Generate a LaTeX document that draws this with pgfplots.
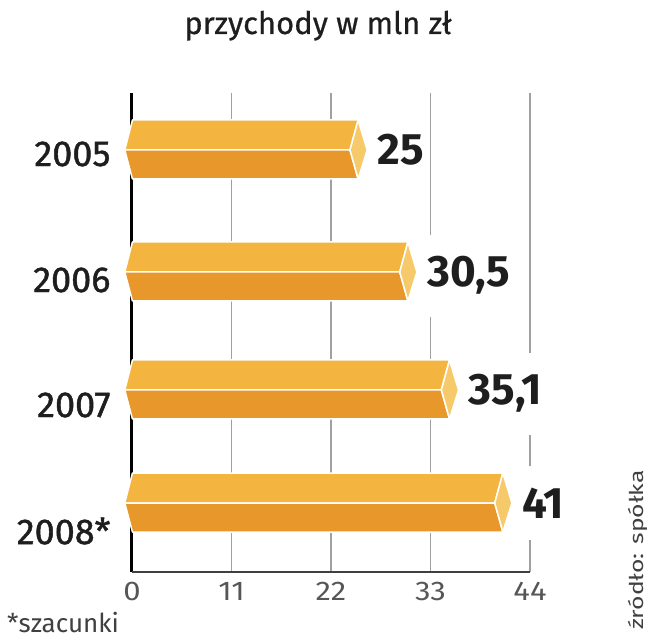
\documentclass[border=0pt]{standalone}
\usepackage{pgfplots}
\pgfplotsset{compat=1.18}
\usepackage{fontspec}
\setmainfont{Fira Sans}
\newfontfamily\semib{Fira Sans}[FakeBold=1.2]
\newfontfamily\medf{Fira Sans}[FakeBold=0.6]
\newfontfamily\srcf{Fira Sans}[FakeStretch=1.3]
\newfontfamily\tickf{Fira Sans}[FakeStretch=1.15]
\newcommand\tk{\fontsize{27}{27}\tickf}
\definecolor{ctop}{HTML}{F3B440}
\definecolor{cbot}{HTML}{E8972A}
\definecolor{ccap}{HTML}{F6CA6A}
\definecolor{cgrid}{HTML}{A0A0A0}
\definecolor{ctext}{HTML}{1E1E1E}
\begin{document}
\begin{tikzpicture}
\begin{axis}[
  scale only axis, width=398pt, height=479pt,
  xmin=0, xmax=44, ymin=0, ymax=479,
  xtick={0,11,22,33,44},
  xticklabels={0,11,22,33,44},
  ytick={41,167,292,418},
  yticklabels={2008*,2007,2006,2005},
  major tick length=0pt,
  axis line style={draw=none},
  xmajorgrids, grid style={cgrid, line width=1.2pt},
  every x tick label/.append style={font=\tk, text=ctext!75, yshift=-7pt},
  yticklabel style={font=\fontsize{36}{36}\semib, text=ctext, xshift=-18pt},
  clip=false,
  bar/.style={draw=white, line width=1.5pt, line join=round, mark=none},
]
\draw[black, line width=3pt] (axis cs:0,0) -- (axis cs:0,479);
\draw[black!75, line width=1.5pt] (axis cs:0,0) -- (axis cs:44,0);
% 2005: 25
\addplot[bar, fill=ctop] coordinates {(-0.8,422) (0.05,452) (25,452) (24.1,422) (-0.8,422)};
\addplot[bar, fill=cbot] coordinates {(-0.8,422) (24.1,422) (25,393) (0.05,393) (-0.8,422)};
\addplot[bar, fill=ccap] coordinates {(25,452) (26,422) (25,393) (24.1,422) (25,452)};
% 2006: 30.5
\addplot[bar, fill=ctop] coordinates {(-0.8,300) (0.05,330) (30.5,330) (29.6,300) (-0.8,300)};
\addplot[bar, fill=cbot] coordinates {(-0.8,300) (29.6,300) (30.5,271) (0.05,271) (-0.8,300)};
\addplot[bar, fill=ccap] coordinates {(30.5,330) (31.5,300) (30.5,271) (29.6,300) (30.5,330)};
% 2007: 35.1
\addplot[bar, fill=ctop] coordinates {(-0.8,182) (0.05,212) (35.1,212) (34.2,182) (-0.8,182)};
\addplot[bar, fill=cbot] coordinates {(-0.8,182) (34.2,182) (35.1,153) (0.05,153) (-0.8,182)};
\addplot[bar, fill=ccap] coordinates {(35.1,212) (36.1,182) (35.1,153) (34.2,182) (35.1,212)};
% 2008: 41
\addplot[bar, fill=ctop] coordinates {(-0.8,69) (0.05,99) (41,99) (40.1,69) (-0.8,69)};
\addplot[bar, fill=cbot] coordinates {(-0.8,69) (40.1,69) (41,40) (0.05,40) (-0.8,69)};
\addplot[bar, fill=ccap] coordinates {(41,99) (42,69) (41,40) (40.1,69) (41,99)};
% value labels
\tikzset{val/.style={anchor=base west, fill=white, inner xsep=4pt, inner ysep=22pt, xshift=6pt, yshift=-15pt, text=ctext, font=\fontsize{44}{44}\selectfont\bfseries}}
\node[val] at (axis cs:26,422) {25};
\node[val] at (axis cs:31.5,300) {30,5};
\node[val] at (axis cs:36.1,182) {35,1};
\node[val] at (axis cs:42,69) {41};
\end{axis}
\node[anchor=base, font=\fontsize{31}{31}\medf, text=ctext, inner sep=0] at (186pt,538pt) {przychody w mln zł};
\node[anchor=base west, font=\fontsize{26}{26}\selectfont, text=ctext!85, inner sep=0] at (-125pt,-60pt) {*szacunki};
\node[anchor=base west, rotate=90, font=\fontsize{19}{19}\srcf, text=ctext!85, inner sep=0] at (511pt,-58pt) {źródło: spółka};
\pgfresetboundingbox
\path[use as bounding box] (-132pt,-68pt) rectangle (516pt,572pt);
\end{tikzpicture}
\end{document}
